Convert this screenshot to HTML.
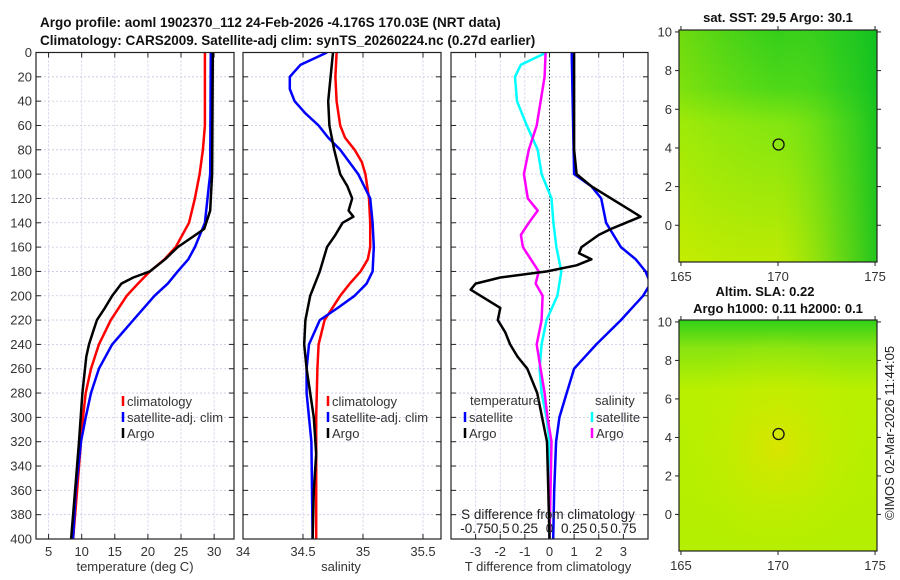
<!DOCTYPE html>
<html><head><meta charset="utf-8">
<style>
html,body{margin:0;padding:0;background:#fff;}
svg{display:block;font-family:"Liberation Sans","DejaVu Sans",sans-serif;}
</style></head>
<body>
<svg id="fig" width="900" height="580" viewBox="0 0 900 580">
<defs>
<linearGradient id="sstV" x1="0" y1="0" x2="0" y2="1">
<stop offset="0" stop-color="#1ec81e"/><stop offset="0.25" stop-color="#3cd41a"/><stop offset="0.4" stop-color="#80e610"/><stop offset="1" stop-color="#c8ec00"/>
</linearGradient>
<linearGradient id="sstH" x1="0" y1="0" x2="1" y2="0">
<stop offset="0" stop-color="#c0ee00" stop-opacity="0.5"/><stop offset="0.5" stop-color="#90e610" stop-opacity="0.2"/><stop offset="0.8" stop-color="#30cc20" stop-opacity="0.6"/><stop offset="1" stop-color="#10c020" stop-opacity="0.9"/>
</linearGradient>
<linearGradient id="slaV" x1="0" y1="0" x2="0" y2="1">
<stop offset="0" stop-color="#30d018"/><stop offset="0.12" stop-color="#88e410"/><stop offset="0.3" stop-color="#b8f000"/><stop offset="1" stop-color="#b4ee00"/>
</linearGradient>
<radialGradient id="slaR" cx="0.5" cy="0.55" r="0.5">
<stop offset="0" stop-color="#e8e000" stop-opacity="0.7"/><stop offset="1" stop-color="#c0f000" stop-opacity="0"/>
</radialGradient>
</defs>
<g id="root"></g>
</svg>
<script>
// ---------- data ----------
const depthsClimT = [0,60,80,100,120,140,160,170,180,190,200,220,240,260,280,300,320,360,400];
const climT = [28.6,28.6,28.3,27.8,27.1,26.2,24.2,22.5,20.3,18.5,16.8,14.4,12.6,11.4,10.6,10.2,9.9,9.3,8.7];
const depthsSatT = [0,100,110,140,160,170,180,190,200,220,240,260,280,300,320,360,400];
const satT = [29.5,29.4,29.2,28.6,27.1,26.1,24.5,23.0,21.0,17.8,14.6,12.6,11.4,10.6,9.9,9.1,8.7];
const depthsArgoT = [0,100,120,130,140,145,150,160,170,180,185,190,195,200,210,220,230,240,250,280,320,360,400];
const argoT = [29.8,29.7,29.5,29.4,28.8,28.5,27.2,24.5,22.6,20.3,17.8,16.0,15.3,14.6,13.5,12.3,11.7,11.1,10.7,10.1,9.6,9.0,8.4];

const depthsClimS = [0,20,40,60,70,80,90,100,120,140,160,170,180,190,200,220,240,260,300,400];
const climS = [34.78,34.77,34.78,34.81,34.85,34.93,34.99,35.02,35.05,35.06,35.06,35.04,34.98,34.89,34.81,34.68,34.63,34.62,34.61,34.61];
const depthsSatS = [0,10,20,30,40,50,60,70,80,100,120,140,160,180,190,200,210,220,240,260,280,300,320,400];
const satS = [34.70,34.48,34.39,34.39,34.43,34.52,34.63,34.71,34.81,34.96,35.06,35.08,35.09,35.08,35.03,34.93,34.79,34.64,34.55,34.53,34.53,34.55,34.57,34.58];
const depthsArgoS = [0,20,40,60,80,100,110,120,130,135,140,150,160,170,180,200,220,240,260,300,330,360,400];
const argoS = [34.75,34.73,34.71,34.72,34.76,34.81,34.87,34.91,34.88,34.92,34.83,34.77,34.70,34.67,34.64,34.56,34.52,34.51,34.53,34.59,34.61,34.59,34.58];

const depthsDT = [0,20,60,80,100,110,120,130,135,140,145,150,160,165,170,175,180,185,190,195,200,205,210,220,230,240,250,260,280,300,320,360,400];
const argoDT = [1.0,1.0,1.0,1.0,1.1,1.7,2.5,3.3,3.7,3.1,2.5,2.0,1.3,1.2,1.7,1.1,-0.1,-2.0,-3.0,-3.2,-2.8,-2.4,-2.0,-2.1,-1.8,-1.6,-1.3,-0.9,-0.5,-0.3,-0.1,-0.05,0.0];
const depthsSatDT = [0,100,110,120,140,160,170,180,190,200,220,240,260,280,300,320,360,400];
const satDT = [0.9,1.0,1.7,2.1,2.3,2.9,3.5,3.9,4.1,3.8,2.9,1.9,1.0,0.7,0.4,0.27,0.19,0.15];
const depthsDS = [0,10,20,40,60,80,100,120,140,160,180,200,220,240,260,280,300,320,400];
const satDS = [-0.03,-0.29,-0.35,-0.33,-0.23,-0.12,-0.08,0.02,0.04,0.07,0.12,0.08,-0.03,-0.08,-0.10,-0.08,-0.03,0.0,0.0];
const depthsArgoDS = [0,20,60,80,100,120,130,140,150,160,170,180,190,200,220,240,260,280,300,320,400];
const argoDS = [-0.04,-0.05,-0.13,-0.21,-0.26,-0.22,-0.12,-0.21,-0.29,-0.27,-0.19,-0.11,-0.14,-0.07,-0.08,-0.13,-0.09,-0.05,-0.02,0.02,0.0];

const depthTicks = [0,20,40,60,80,100,120,140,160,180,200,220,240,260,280,300,320,340,360,380,400];
const tempTicks = [5,10,15,20,25,30];
const salTicks = [34,34.5,35,35.5];
const tdiffTicks = [-3,-2,-1,0,1,2,3];
const sdiffTicks = [-0.75,-0.5,-0.25,0,0.25,0.5,0.75];
const sdiffLabels = ["-0.75","0.5","0.25","0","0.25","0.5","0.75"];
const lonTicks = [165,170,175];
const latTicks = [0,2,4,6,8,10];
const floatLon = 170.03, floatLat = 4.176;

// ---------- helpers ----------
const NS = "http://www.w3.org/2000/svg";
const rootG = document.getElementById('root');
function mk(tag, attrs, parent){const e=document.createElementNS(NS,tag);for(const k in attrs)e.setAttribute(k,attrs[k]);(parent||rootG).appendChild(e);return e;}
function txt(x,y,s,attrs,parent){const e=mk('text',Object.assign({x:x,y:y,'font-size':13,fill:'#333'},attrs||{}),parent);e.textContent=s;return e;}
const Y0=52.5, Y1=539;
const yD = d => Y0 + (d/400)*(Y1-Y0);
function lin(d0,d1,r0,r1){return v=>r0+(v-d0)/(d1-d0)*(r1-r0);}

function panel(pname,x0,x1,xScale,xticks,xlabels,showY){
  const g=mk('g',{});
  
  
  xticks.forEach(t=>{const x=xScale(t);if(x>x0+1&&x<x1-1)mk('line',{x1:x,x2:x,y1:Y0,y2:Y1,stroke:'#c4c8e4','stroke-width':0.8,'stroke-dasharray':'2,2'},g);});
  depthTicks.forEach(d=>{const y=yD(d);if(d>0&&d<400)mk('line',{x1:x0,x2:x1,y1:y,y2:y,stroke:'#c4c8e4','stroke-width':0.8,'stroke-dasharray':'2,2'},g);});
  depthTicks.forEach(d=>{const y=yD(d);mk('line',{x1:x0,x2:x0+5,y1:y,y2:y,stroke:'#222'},g);mk('line',{x1:x1,x2:x1-5,y1:y,y2:y,stroke:'#222'},g);
    if(showY){const t=txt(x0-4,y+4.5,String(d),{'text-anchor':'end'},g);}});
  xticks.forEach((t,i)=>{const x=xScale(t);mk('line',{x1:x,x2:x,y1:Y1,y2:Y1-5,stroke:'#222'},g);mk('line',{x1:x,x2:x,y1:Y0,y2:Y0+5,stroke:'#222'},g);
    if(xlabels){const e=txt(x,Y1+17,xlabels[i],{'text-anchor':'middle'},g);}});
  return g;
}
function clipRect(id,x0,x1){const cp=mk('clipPath',{id:id});mk('rect',{x:x0,y:Y0,width:x1-x0,height:Y1-Y0},cp);}
function profLine(lname,ds,vs,xs,color,w,clip,parent){
  const pts=[];
  for(let i=0;i<ds.length;i++){const v=vs[i];if(v===undefined)continue;pts.push(xs(v).toFixed(1)+','+yD(ds[i]).toFixed(1));}
  const e=mk('polyline',{points:pts.join(' '),fill:'none',stroke:color,'stroke-width':w||2.5,'stroke-linejoin':'round','clip-path':'url(#'+clip+')'},parent);
  
  
  return e;
}
function frameRect(x0,x1){mk('rect',{x:x0,y:Y0,width:x1-x0,height:Y1-Y0,fill:'none',stroke:'#222','stroke-width':1.2});}
function legendEntry(x,y,color,label,parent){
  mk('line',{x1:x,x2:x,y1:y-10,y2:y,stroke:color,'stroke-width':2.5},parent);
  const t=txt(x+4,y,label,{'font-size':13},parent);
  
  
}
function safe(f){try{f();}catch(e){console.log(e);}}

// ---------- titles ----------
safe(()=>{
let t1=txt(40,27,"Argo profile: aoml 1902370_112 24-Feb-2026 -4.176S 170.03E (NRT data)",{'font-weight':'bold','font-size':13.5,fill:'#111'});


let t2=txt(40,45,"Climatology: CARS2009. Satellite-adj clim: synTS_20260224.nc (0.27d earlier)",{'font-weight':'bold','font-size':13.5,fill:'#111'});


});

// ---------- panel 1 ----------
safe(()=>{
const P1=[36,234]; const xT=lin(3.1,33.0,P1[0],P1[1]);
clipRect('c1',P1[0],P1[1]);
const g1=panel('temperature-panel',P1[0],P1[1],xT,tempTicks,tempTicks.map(String),true);
profLine('climatology-temp-line',depthsClimT,climT,xT,'#ff0000',2.5,'c1',g1);
profLine('satellite-temp-line',depthsSatT,satT,xT,'#0000ff',2.5,'c1',g1);
profLine('argo-temp-line',depthsArgoT,argoT,xT,'#000',2.5,'c1',g1);
frameRect(P1[0],P1[1]);
legendEntry(123,406,'#ff0000','climatology',g1);
legendEntry(123,422,'#0000ff','satellite-adj. clim',g1);
legendEntry(123,438,'#000','Argo',g1);
let xl1=txt(135,571,"temperature (deg C)",{'text-anchor':'middle'});


});

// ---------- panel 2 ----------
safe(()=>{
const P2=[243,441]; const xS=lin(34,35.65,P2[0],P2[1]);
clipRect('c2',P2[0],P2[1]);
const g2=panel('salinity-panel',P2[0],P2[1],xS,salTicks,salTicks.map(String),false);
profLine('climatology-sal-line',depthsClimS,climS,xS,'#ff0000',2.5,'c2',g2);
profLine('satellite-sal-line',depthsSatS,satS,xS,'#0000ff',2.5,'c2',g2);
profLine('argo-sal-line',depthsArgoS,argoS,xS,'#000',2.5,'c2',g2);
frameRect(P2[0],P2[1]);
legendEntry(328,406,'#ff0000','climatology',g2);
legendEntry(328,422,'#0000ff','satellite-adj. clim',g2);
legendEntry(328,438,'#000','Argo',g2);
let xl2=txt(341,571,"salinity",{'text-anchor':'middle'});


});

// ---------- panel 3 ----------
safe(()=>{
const P3=[451,648]; const xDT=lin(-4,4,P3[0],P3[1]); const xDS=lin(-1,1,P3[0],P3[1]);
clipRect('c3',P3[0],P3[1]);
const g3=panel('difference-panel',P3[0],P3[1],xDT,tdiffTicks,tdiffTicks.map(String),false);
mk('line',{x1:xDT(0),x2:xDT(0),y1:Y0,y2:Y1,stroke:'#222','stroke-width':1,'stroke-dasharray':'1.5,2'},g3);
profLine('satellite-sal-diff-line',depthsDS,satDS,xDS,'#00ffff',2.5,'c3',g3);
profLine('argo-sal-diff-line',depthsArgoDS,argoDS,xDS,'#ff00ff',2.5,'c3',g3);
profLine('satellite-temp-diff-line',depthsSatDT,satDT,xDT,'#0000ff',2.5,'c3',g3);
profLine('argo-temp-diff-line',depthsDT,argoDT,xDT,'#000000',2.5,'c3',g3);
frameRect(P3[0],P3[1]);
txt(470,405,"temperature",{},g3);
txt(595,405,"salinity",{},g3);
legendEntry(465,422,'#0000ff','satellite',g3);
legendEntry(465,438,'#000','Argo',g3);
legendEntry(592,422,'#00ffff','satellite',g3);
legendEntry(592,438,'#ff00ff','Argo',g3);
let sdt=txt(548,519,"S difference from climatology",{'text-anchor':'middle','font-size':13.5,fill:'#222'},g3);


sdiffTicks.forEach((s,i)=>{const e=txt(xDS(s),533,sdiffLabels[i],{'text-anchor':'middle','font-size':13.5,fill:'#222'},g3);});
let tdl=txt(548,571,"T difference from climatology",{'text-anchor':'middle'});


});

// ---------- maps ----------
function drawMap(mname,mtop,mbot,fillA,fillB){
  const L=679,R=877;
  const g=mk('g',{});
  
  
  const xL=lin(164.9,175.1,L,R);
  const yL=lin(10.1,-1.9,mtop,mbot);
  mk('rect',{x:L,y:mtop,width:R-L,height:mbot-mtop,fill:fillA},g);
  mk('rect',{x:L,y:mtop,width:R-L,height:mbot-mtop,fill:fillB},g);
  mk('rect',{x:L,y:mtop,width:R-L,height:mbot-mtop,fill:'none',stroke:'#222','stroke-width':1.2},g);
  lonTicks.forEach(v=>{const x=xL(v);mk('line',{x1:x,x2:x,y1:mbot,y2:mbot+4,stroke:'#222'},g);mk('line',{x1:x,x2:x,y1:mtop,y2:mtop-4,stroke:'#222'},g);
    const e=txt(x,mbot+19,String(v),{'text-anchor':'middle'},g);});
  latTicks.forEach(v=>{const y=yL(v);mk('line',{x1:L,x2:L-4,y1:y,y2:y,stroke:'#222'},g);mk('line',{x1:R,x2:R+4,y1:y,y2:y,stroke:'#222'},g);
    const e=txt(L-7,y+4.5,String(v),{'text-anchor':'end'},g);});
  const c=mk('circle',{cx:xL(floatLon),cy:yL(floatLat),r:5.5,fill:'none',stroke:'#111','stroke-width':1.3},g);
  
  
  return g;
}
safe(()=>{
drawMap('sst-map',30,262,'url(#sstV)','url(#sstH)');
const mt1=txt(778,22,"sat. SST: 29.5 Argo: 30.1",{'text-anchor':'middle','font-weight':'bold','font-size':13,fill:'#111'});


});
safe(()=>{
drawMap('sla-map',320,551,'url(#slaV)','url(#slaR)');
const mt2=txt(765,296,"Altim. SLA: 0.22",{'text-anchor':'middle','font-weight':'bold','font-size':13,fill:'#111'});


const mt3=txt(778,313,"Argo h1000: 0.11 h2000: 0.1",{'text-anchor':'middle','font-weight':'bold','font-size':13,fill:'#111'});


});
safe(()=>{
const cr=txt(0,0,"©IMOS 02-Mar-2026 11:44:05",{'text-anchor':'middle',transform:'translate(894,433) rotate(-90)',fill:'#222'});


});
</script>
</body></html>
